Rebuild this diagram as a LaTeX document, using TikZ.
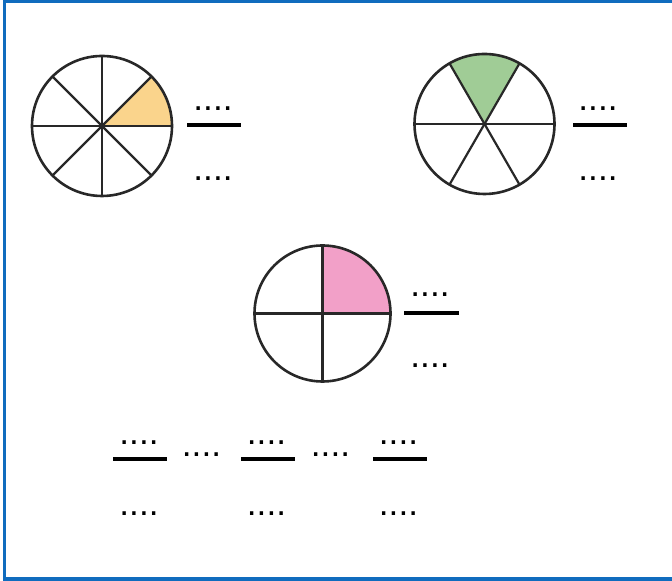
\documentclass[tikz,border=0pt]{standalone}
\usepackage{fontspec}
\usepackage{tikz}
\usetikzlibrary{backgrounds}
\newfontfamily\dotfont{Liberation Sans}
\definecolor{frameblue}{RGB}{16,108,190}
\definecolor{pieline}{RGB}{40,40,40}
\definecolor{pieorange}{RGB}{250,212,140}
\definecolor{piegreen}{RGB}{160,204,150}
\definecolor{piepink}{RGB}{242,160,200}
\tikzset{
  pie/.style={circle, draw=pieline, line width=0.65mm, inner sep=0pt, outer sep=0pt},
  spoke/.style={pieline, line width=0.55mm},
  blank/.style={font=\dotfont\fontsize{25}{25}\selectfont, inner sep=0pt, anchor=base},
  bar/.style={line width=1mm, black},
  frame/.style={draw=frameblue, line width=0.8mm}
}
\begin{document}
\begin{tikzpicture}[x=0.25mm, y=0.25mm]
\useasboundingbox (0,0) rectangle (672,581);
\draw[frame] (4.5,2) rectangle (680,579.5);
% the three circles
\node[pie, minimum size=35mm] (c1) at (102,455) {};
\node[pie, minimum size=35mm] (c2) at (484.5,457) {};
\node[pie, minimum size=34mm] (c3) at (322.5,267.5) {};
\begin{scope}[on background layer]
  \fill[pieorange] (c1.center) -- (c1.0) arc[start angle=0, end angle=45, radius=17.5mm] -- cycle;
  \fill[piegreen] (c2.center) -- (c2.60) arc[start angle=60, end angle=120, radius=17.5mm] -- cycle;
  \fill[piepink] (c3.center) -- (c3.0) arc[start angle=0, end angle=90, radius=17mm] -- cycle;
\end{scope}
\foreach \a in {0,45,...,315} \draw[spoke] (c1.center) -- (c1.\a);
\foreach \a in {0,60,...,300} \draw[spoke] (c2.center) -- (c2.\a);
\foreach \a in {0,90,...,270} \draw[spoke] (c3.center) -- (c3.\a);
% fractions next to the circles
\node[blank] (n1) at (213,470) {....};
\coordinate (b1) at (187,456);
\draw[bar] (b1) -- ++(54,0);
\node[blank] (d1) at (213,400) {....};
\node[blank] (n2) at (598,470) {....};
\coordinate (b2) at (573,456);
\draw[bar] (b2) -- ++(54,0);
\node[blank] (d2) at (598,400) {....};
\node[blank] (n3) at (430,284) {....};
\coordinate (b3) at (404,268);
\draw[bar] (b3) -- ++(55,0);
\node[blank] (d3) at (430,213) {....};
% bottom row
\node[blank] (n4) at (139,136) {....};
\coordinate (b4) at (113,122);
\draw[bar] (b4) -- ++(54,0);
\node[blank] (d4) at (139,65) {....};
\node[blank] (s1) at (201.5,124) {....};
\node[blank] (n5) at (266.5,136) {....};
\coordinate (b5) at (241,122);
\draw[bar] (b5) -- ++(54,0);
\node[blank] (d5) at (266.5,65) {....};
\node[blank] (s2) at (330.5,124) {....};
\node[blank] (n6) at (398.5,136) {....};
\coordinate (b6) at (373,122);
\draw[bar] (b6) -- ++(54,0);
\node[blank] (d6) at (398.5,65) {....};
\end{tikzpicture}
\end{document}
